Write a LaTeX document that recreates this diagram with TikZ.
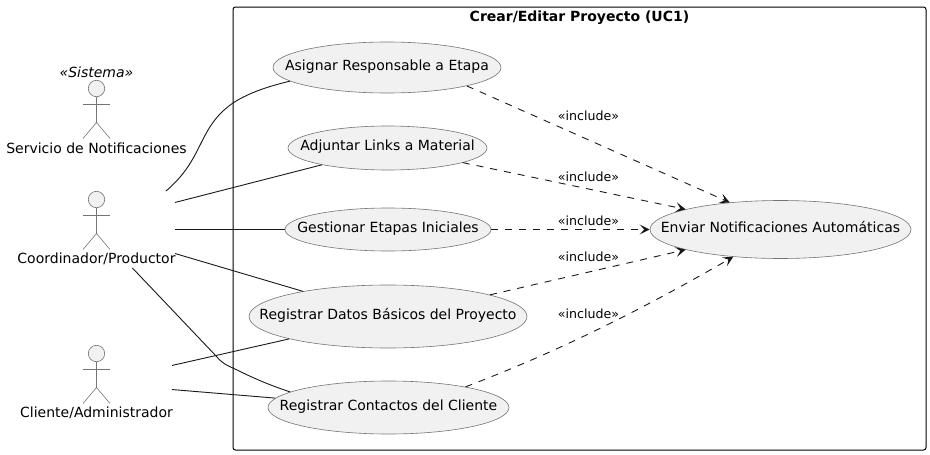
\documentclass[tikz,border=0pt]{standalone}
\usepackage{fontspec}
\setmainfont{DejaVu Sans}
\usetikzlibrary{arrows.meta,shapes.geometric}
\definecolor{usecase_fill}{HTML}{F1F1F1}
\definecolor{line_col}{HTML}{181818}
\definecolor{thin_col}{HTML}{747474}
\newcommand{\uctext}[1]{\makebox[0pt]{#1}}
\tikzset{
  stick_actor/.pic={
    \draw[draw=thin_col, fill=usecase_fill, line width=.6] (0,0) circle (8.2);
    \draw[draw=thin_col, line width=.6] (0,8.2) -- (0,34);
    \draw[draw=thin_col, line width=.6] (-13.5,15.5) -- (13.5,15.5);
    \draw[draw=thin_col, line width=.6] (-13.5,50) -- (0,34) -- (13.5,50);
  }
}

\begin{document}
\begin{tikzpicture}
  [x=1pt,y=-1pt]
      \tikzstyle{usecase_style} = [ellipse, draw=thin_col, fill=usecase_fill, line width=.6, inner sep=0, font=\fontsize{14}{16}\selectfont, text height=9, text depth=4]
      \tikzstyle{actor_box} = [inner sep=0, outer sep=0]
      \tikzstyle{label_style} = [inner sep=0, font=\fontsize{14}{16}\selectfont]
      \tikzstyle{include_style} = [inner sep=0, font=\fontsize{12.6}{14}\selectfont]
      \tikzstyle{edge_style} = [draw=line_col, line width=.9]
      \tikzstyle{dash_style} = [draw=line_col, line width=.9, dash pattern=on 7 off 7, -{Stealth[length=10,width=10,inset=4.5]}]
  \useasboundingbox (0,0) rectangle (930,455);
  \node[draw=black, line width=1, rounded corners=2.5, inner sep=0, minimum width=693, minimum height=443] (frame) at (579.5,228.5) {};
  \node[inner sep=0, font=\fontsize{14}{16}\selectfont\bfseries] (title) at (579.5,17.5) {Crear/Editar Proyecto (UC1)};

  \node[usecase_style, minimum width=228, minimum height=51] (asignar) at (387,67.5) {\uctext{Asignar Responsable a Etapa}};
  \node[usecase_style, minimum width=199, minimum height=44] (adjuntar) at (387.5,148) {\uctext{Adjuntar Links a Material}};
  \node[usecase_style, minimum width=206, minimum height=43] (gestionar) at (388,229.5) {\uctext{Gestionar Etapas Iniciales}};
  \node[usecase_style, minimum width=278, minimum height=63] (datos) at (388,316.5) {\uctext{Registrar Datos Básicos del Proyecto}};
  \node[usecase_style, minimum width=241, minimum height=53] (contactos) at (388.5,407.5) {\uctext{Registrar Contactos del Cliente}};
  \node[usecase_style, minimum width=261, minimum height=58] (enviar) at (780.5,229.5) {\uctext{Enviar Notificaciones Automáticas}};

  \pic at (96.5,88.5) {stick_actor};
  \pic at (96.5,199.5) {stick_actor};
  \pic at (96.5,353.5) {stick_actor};
  \node[label_style] (servicio_st) at (96.5,72) {\itshape «Sistema»};
  \node[label_style] (servicio) at (96.5,148) {Servicio de Notificaciones};
  \node[label_style] (coordinador) at (96.5,259) {Coordinador/Productor};
  \node[label_style] (cliente) at (96.5,413) {Cliente/Administrador};
  \node[actor_box, minimum width=157, minimum height=77] (coord_box) at (96.5,229.5) {};
  \node[actor_box, minimum width=152, minimum height=77] (cliente_box) at (96,377.5) {};

  \draw[edge_style] (coord_box.29) .. controls (205,158) and (197,128) .. (233,103) .. controls (250,92) and (270,86) .. (asignar.188);
  \draw[edge_style] (coord_box.19) -- (adjuntar);
  \draw[edge_style] (coord_box.east) -- (gestionar);
  \draw[edge_style] (coord_box.-17) -- (datos);
  \draw[edge_style] (coord_box.-47.3) -- (217,357) .. controls (222,363) and (226,365) .. (235,369) .. controls (255,379) and (272,386) .. (contactos.171.5);
  \draw[edge_style] (cliente_box.9) -- (datos);
  \draw[edge_style] (cliente_box.-9) -- (contactos);

  \draw[dash_style] (asignar.-13.4) -- (enviar.152);
  \draw[dash_style] (adjuntar.-11.4) -- (enviar.168.1);
  \draw[dash_style] (gestionar) -- (enviar);
  \draw[dash_style] (datos.12.5) -- (enviar.192.5);
  \draw[dash_style] (contactos.15.4) .. controls (530,362) and (610,328) .. (enviar.210.2);

  \node[include_style] (inc1) at (588.5,115.5) {«include»};
  \node[include_style] (inc2) at (588.5,176.5) {«include»};
  \node[include_style] (inc3) at (588.5,220.5) {«include»};
  \node[include_style] (inc4) at (588.5,257) {«include»};
  \node[include_style] (inc5) at (588.5,313.5) {«include»};
\end{tikzpicture}
\end{document}
